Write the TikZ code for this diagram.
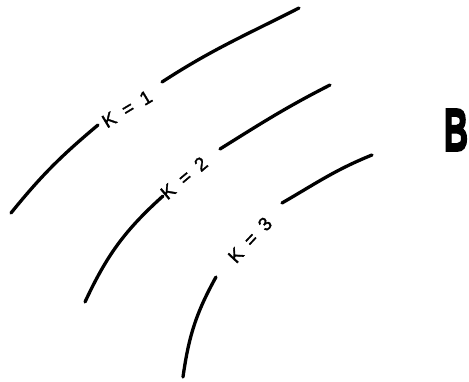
\documentclass[tikz,border=0pt]{standalone}
\usepackage{fontspec}
\setmainfont{Liberation Sans}
\newfontfamily\labfont[FakeBold=1.5]{Liberation Sans}
\newfontfamily\heavyfont[FakeBold=4]{Liberation Sans Bold}
\usetikzlibrary{positioning}

\begin{document}
\begin{tikzpicture}[x=1pt, y=1pt, curve/.style={line width=3.3pt, line cap=round},
  lab/.style={inner sep=0pt, font=\labfont\fontsize{19}{19}\selectfont}]
  \useasboundingbox (0,0) rectangle (469,381);
  % K = 1
  \coordinate (a1) at (11,168); \coordinate (b1) at (98,256);
  \coordinate (c1) at (162,299); \coordinate (d1) at (299,373);
  \node[lab, rotate=31] (k1) at (127,272) {K\hspace{10pt}=\hspace{10pt}1};
  \draw[curve] (a1) to[out=51,in=220] (b1);
  \draw[curve] (c1) to[out=33,in=207] (d1);
  % K = 2
  \coordinate (a2) at (85,79); \coordinate (b2) at (163,185);
  \coordinate (c2) at (220,232); \coordinate (d2) at (330,296);
  \node[lab, rotate=40] (k2) at (184,203) {K\hspace{10pt}=\hspace{10pt}2};
  \draw[curve] (a2) to[out=65,in=222] (b2);
  \draw[curve] (c2) to[out=32,in=207] (d2);
  % K = 3
  \coordinate (a3) at (183,4); \coordinate (b3) at (216,104);
  \coordinate (c3) at (282,178); \coordinate (d3) at (372,226);
  \node[lab, rotate=47] (k3) at (250,141) {K\hspace{10pt}=\hspace{10pt}3};
  \draw[curve] (a3) to[out=82,in=241] (b3);
  \draw[curve] (c3) to[out=30,in=202] (d3);
  \node[inner sep=0pt, xscale=0.55, font=\heavyfont\fontsize{60}{60}\selectfont] (bb) at (456,251) {B};
\end{tikzpicture}
\end{document}
